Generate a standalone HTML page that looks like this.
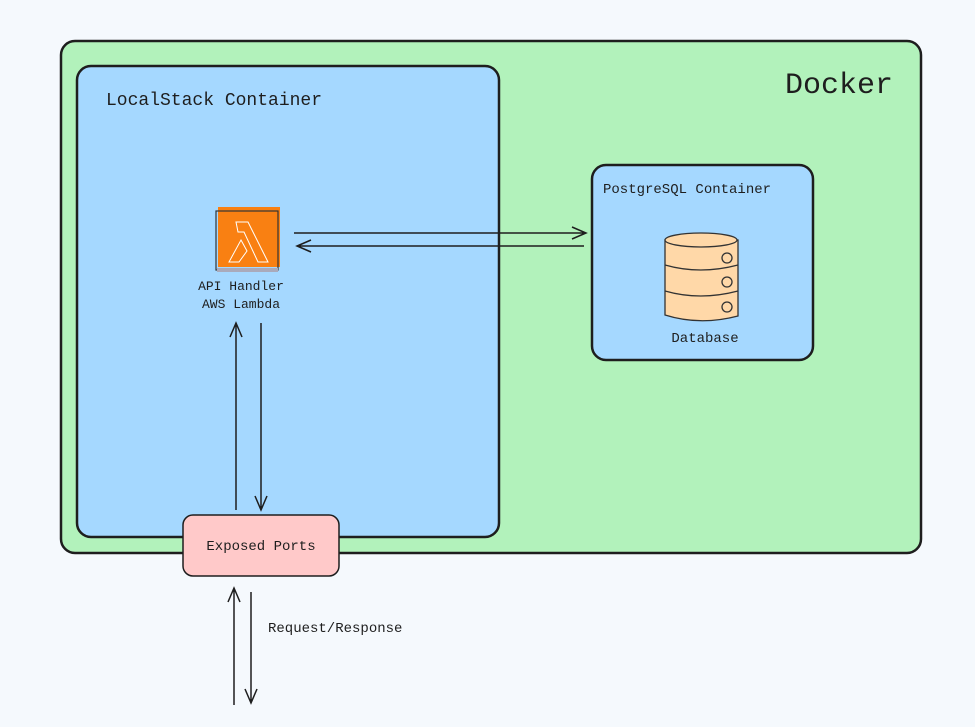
<!DOCTYPE html>
<html><head><style>body{margin:0;background:#f5f9fd}svg{display:block}text{font-family:"Liberation Mono",monospace;fill:#1e1e1e}</style></head><body>
<svg width="975" height="727" viewBox="0 0 975 727" xmlns="http://www.w3.org/2000/svg">
<rect x="0" y="0" width="975" height="727" fill="#f5f9fd"/>
<rect x="61" y="41" width="860" height="512" rx="14" fill="#b2f2bb" stroke="#1e1e1e" stroke-width="2.5"/>
<text x="893" y="93" font-size="30" text-anchor="end" style="font-family:'Liberation Mono',monospace">Docker</text>
<rect x="77" y="66" width="422" height="471" rx="14" fill="#a5d8ff" stroke="#1e1e1e" stroke-width="2.5"/>
<text x="106" y="105" font-size="18">LocalStack Container</text>
<rect x="592" y="165" width="221" height="195" rx="14" fill="#a5d8ff" stroke="#1e1e1e" stroke-width="2.5"/>
<text x="603" y="193" font-size="14">PostgreSQL Container</text>
<rect x="218" y="207" width="62" height="60" fill="#f98012"/>
<rect x="216" y="211" width="62" height="59" fill="none" stroke="#333" stroke-width="1.2"/>
<rect x="217" y="268" width="61" height="4" fill="#aab"/>
<path d="M236 222 L248 222 L268 262 L258 262 L244 232 L238 232 Z M241 240 L247 251 L239 262 L229 262 Z" fill="none" stroke="#fff" stroke-width="1"/>
<text x="241" y="290" font-size="13" text-anchor="middle">API Handler</text>
<text x="241" y="308" font-size="13" text-anchor="middle">AWS Lambda</text>
<g fill="#ffd8a8" stroke="#333" stroke-width="1.3">
<path d="M665 240 L665 315 Q700 326 738 316 L738 240 Z"/>
<ellipse cx="701" cy="240" rx="36" ry="7"/>
<path d="M665 265 Q700 275 738 265" fill="none"/>
<path d="M665 291 Q700 301 738 291" fill="none"/>
<circle cx="727" cy="258" r="5"/><circle cx="727" cy="282" r="5"/><circle cx="727" cy="307" r="5"/>
</g>
<text x="705" y="342" font-size="14" text-anchor="middle">Database</text>
<rect x="183" y="515" width="156" height="61" rx="10" fill="#ffc9c9" stroke="#1e1e1e" stroke-width="1.5"/>
<text x="261" y="550" font-size="14" text-anchor="middle">Exposed Ports</text>
<g stroke="#1e1e1e" stroke-width="1.5" fill="none">
<path d="M294 233 L586 233 M572 227 L586 233 L572 239"/>
<path d="M584 246 L297 246 M311 240 L297 246 L311 252"/>
<path d="M236 510 L236 323 M230 337 L236 323 L242 337"/>
<path d="M261 323 L261 510 M255 496 L261 510 L267 496"/>
<path d="M234 705 L234 588 M228 602 L234 588 L240 602"/>
<path d="M251 592 L251 703 M245 689 L251 703 L257 689"/>
</g>
<text x="268" y="632" font-size="14">Request/Response</text>
</svg>
</body></html>
